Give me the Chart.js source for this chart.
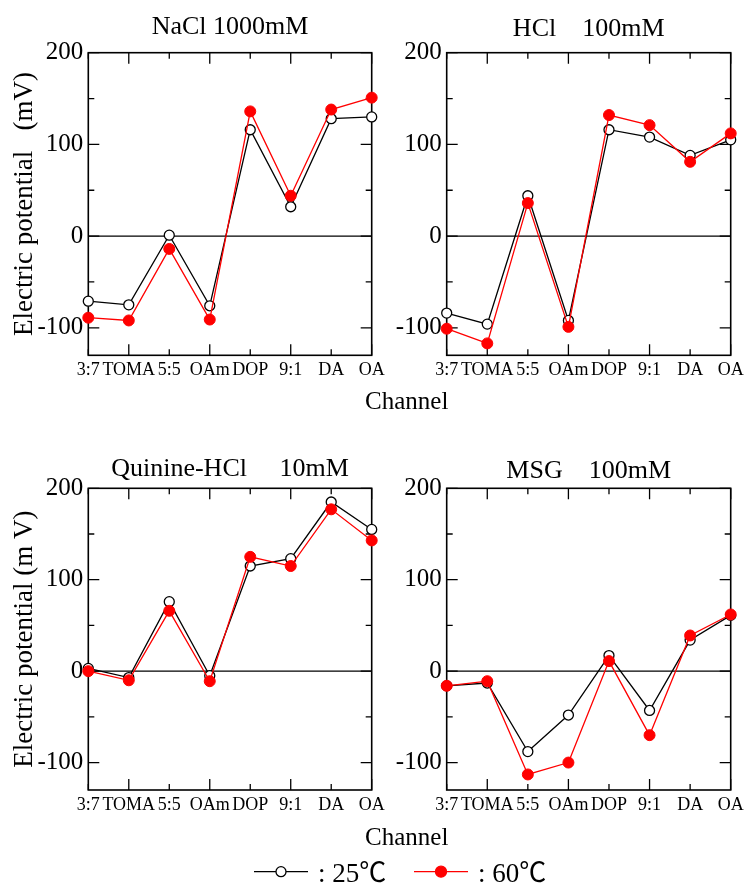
<!DOCTYPE html>
<html>
<head>
<meta charset="utf-8">
<script src="https://cdn.jsdelivr.net/npm/chart.js@4.4.0/dist/chart.umd.min.js"></script>
<style>
  html, body { margin: 0; padding: 0; background: #fff; }
  #page { position: relative; width: 751px; height: 886px; overflow: hidden; }
  #page canvas { position: absolute; left: 0; top: 0; }
</style>
</head>
<body>
<div id="page">
  <canvas id="c0" width="751" height="886"></canvas>
  <canvas id="c1" width="751" height="886"></canvas>
  <canvas id="c2" width="751" height="886"></canvas>
  <canvas id="c3" width="751" height="886"></canvas>
</div>
<script>
// ---- data (mV) ----
const channels = ['3:7', 'TOMA', '5:5', 'OAm', 'DOP', '9:1', 'DA', 'OA'];
const yTicks = [-100, 0, 100, 200];
const yMinorTicks = [-50, 50, 150];

const nacl25    = [-71, -75, 1, -76, 116, 32, 128, 130];
const nacl60    = [-89, -92, -14, -91, 136, 44, 138, 151];
const hcl25     = [-84, -96, 44, -92, 116, 108, 88, 105];
const hcl60     = [-101, -117, 36, -99, 132, 121, 81, 112];
const quinine25 = [3, -7, 76, -5, 115, 123, 185, 155];
const quinine60 = [0, -10, 66, -11, 125, 115, 177, 143];
const msg25     = [-16, -13, -88, -48, 17, -43, 34, 61];
const msg60     = [-16, -11, -113, -100, 11, -70, 39, 62];

const titles = ['NaCl 1000mM', 'HCl    100mM', 'Quinine-HCl     10mM', 'MSG    100mM'];
const yTitles = ['Electric potential   (mV)', 'Electric potential (m V)'];
const seriesLabels = [': 25', ': 60'];
const UNIT = '\u2103';

const FONT = '"Liberation Serif", "Times New Roman", serif';
const CJK = '"Noto Sans CJK JP", "Noto Sans CJK SC", sans-serif';
const RED = '#ff0000';

// plot boxes in page pixels
const panels = [
  { id: 'c0', title: titles[0], d25: nacl25,    d60: nacl60,    left: 88.3,  right: 371.7, top: 52.7,  bottom: 355.3, row: 0, yTitle: yTitles[0], titleMid: 27.1 },
  { id: 'c1', title: titles[1], d25: hcl25,     d60: hcl60,     left: 446.7, right: 730.7, top: 52.7,  bottom: 355.3, row: 0, yTitle: null,       titleMid: 29.2 },
  { id: 'c2', title: titles[2], d25: quinine25, d60: quinine60, left: 88.3,  right: 371.7, top: 488.3, bottom: 790,   row: 1, yTitle: yTitles[1], titleMid: 468.8 },
  { id: 'c3', title: titles[3], d25: msg25,     d60: msg60,     left: 446.7, right: 730.7, top: 488.3, bottom: 790,   row: 1, yTitle: null,       titleMid: 471.2 },
];

// frame, inside ticks (major/minor) and the zero line
const framePlugin = {
  id: 'frame',
  beforeDatasetsDraw(chart) {
    const { ctx, chartArea: a, scales: { x, y } } = chart;
    ctx.save();
    ctx.strokeStyle = '#000';
    ctx.lineWidth = 1.3;

    const y0 = y.getPixelForValue(0);
    ctx.beginPath();
    ctx.moveTo(a.left, y0);
    ctx.lineTo(a.right, y0);
    ctx.stroke();

    ctx.beginPath();
    yTicks.concat(yMinorTicks).forEach(v => {
      const py = y.getPixelForValue(v);
      const len = yTicks.includes(v) ? 11 : 6;
      ctx.moveTo(a.left, py);  ctx.lineTo(a.left + len, py);
      ctx.moveTo(a.right, py); ctx.lineTo(a.right - len, py);
    });
    channels.forEach((c, i) => {
      const px = x.getPixelForValue(i);
      const len = i % 2 ? 11 : 6;
      ctx.moveTo(px, a.bottom); ctx.lineTo(px, a.bottom - len);
      ctx.moveTo(px, a.top);    ctx.lineTo(px, a.top + len);
    });
    ctx.stroke();

    ctx.lineWidth = 1.6;
    ctx.strokeRect(a.left, a.top, a.right - a.left, a.bottom - a.top);
    ctx.restore();
  }
};

// shared "Channel" labels and the legend at the bottom
const pageTextPlugin = {
  id: 'pageText',
  afterDraw(chart) {
    const ctx = chart.ctx;
    ctx.save();
    ctx.fillStyle = '#000';
    ctx.textBaseline = 'alphabetic';
    ctx.textAlign = 'center';
    ctx.font = '25px ' + FONT;
    ctx.fillText('Channel', 406.7, 409.3);
    ctx.fillText('Channel', 406.7, 845);

    const items = [
      { x0: 254, x1: 308, label: seriesLabels[0], color: '#000', fill: '#fff', r: 5 },
      { x0: 414, x1: 468, label: seriesLabels[1], color: RED,    fill: RED,    r: 5.5 },
    ];
    const ly = 871.7;
    const base = 881.7;
    ctx.textAlign = 'left';
    items.forEach(it => {
      ctx.strokeStyle = it.color;
      ctx.lineWidth = 1.3;
      ctx.beginPath();
      ctx.moveTo(it.x0, ly);
      ctx.lineTo(it.x1, ly);
      ctx.stroke();
      ctx.beginPath();
      ctx.arc((it.x0 + it.x1) / 2, ly, it.r, 0, Math.PI * 2);
      ctx.fillStyle = it.fill;
      ctx.fill();
      ctx.stroke();
      ctx.fillStyle = '#000';
      ctx.font = '27px ' + FONT;
      const tx = it.x1 + 10;
      ctx.fillText(it.label, tx, base);
      const w = ctx.measureText(it.label).width;
      ctx.font = '27px ' + CJK;
      ctx.fillText(UNIT, tx + w, base);
    });
    ctx.restore();
  }
};

Chart.defaults.color = '#000';
Chart.defaults.font.family = FONT;

panels.forEach((p, idx) => {
  const padTop = p.row === 0 ? 0 : 440;
  const padLeft = p.left < 300 ? 0 : 380;
  const xAxisH = 30;
  const tPadTop = p.titleMid - padTop - 15.6;
  const tPadBottom = p.top - padTop - 31.2 - tPadTop;

  new Chart(document.getElementById(p.id), {
    type: 'line',
    data: {
      labels: channels,
      datasets: [
        {
          label: '25',
          data: p.d25,
          borderColor: '#000',
          backgroundColor: '#fff',
          pointBackgroundColor: '#fff',
          pointBorderColor: '#000',
          pointBorderWidth: 1.3,
          pointRadius: 5,
          borderWidth: 1.3,
          tension: 0,
          clip: false,
          order: 2,
        },
        {
          label: '60',
          data: p.d60,
          borderColor: RED,
          backgroundColor: RED,
          pointBackgroundColor: RED,
          pointBorderColor: RED,
          pointBorderWidth: 1,
          pointRadius: 5.5,
          borderWidth: 1.3,
          tension: 0,
          clip: false,
          order: 1,
        },
      ],
    },
    options: {
      responsive: false,
      animation: false,
      devicePixelRatio: 1,
      events: [],
      layout: {
        padding: {
          top: padTop,
          left: padLeft,
          right: 751 - p.right,
          bottom: 886 - p.bottom - xAxisH,
        },
      },
      plugins: {
        legend: { display: false },
        tooltip: { enabled: false },
        title: {
          display: true,
          text: p.title,
          fullSize: false,
          color: '#000',
          font: { size: 26, weight: 'normal', family: FONT, lineHeight: 1.2 },
          padding: { top: tPadTop, bottom: tPadBottom },
        },
      },
      scales: {
        x: {
          type: 'category',
          offset: false,
          grid: { display: false, drawTicks: false },
          border: { display: false },
          ticks: {
            autoSkip: false,
            maxRotation: 0,
            minRotation: 0,
            padding: 4,
            color: '#000',
            font: { size: 18, family: FONT, lineHeight: 1.2 },
          },
          afterFit(axis) { axis.height = xAxisH; },
        },
        y: {
          type: 'linear',
          min: -130,
          max: 200,
          grid: { display: false, drawTicks: false },
          border: { display: false },
          ticks: {
            padding: 5,
            color: '#000',
            font: { size: 25, family: FONT, lineHeight: 1.2 },
            callback: v => String(v),
          },
          afterBuildTicks(axis) { axis.ticks = yTicks.map(v => ({ value: v })); },
          afterFit(axis) { axis.width = p.left - padLeft; },
          title: {
            display: !!p.yTitle,
            text: p.yTitle || '',
            color: '#000',
            font: { size: 27, family: FONT, lineHeight: 1.2 },
            padding: { top: 9, bottom: 0 },
          },
        },
      },
    },
    plugins: idx === panels.length - 1 ? [framePlugin, pageTextPlugin] : [framePlugin],
  });
});
</script>
</body>
</html>
